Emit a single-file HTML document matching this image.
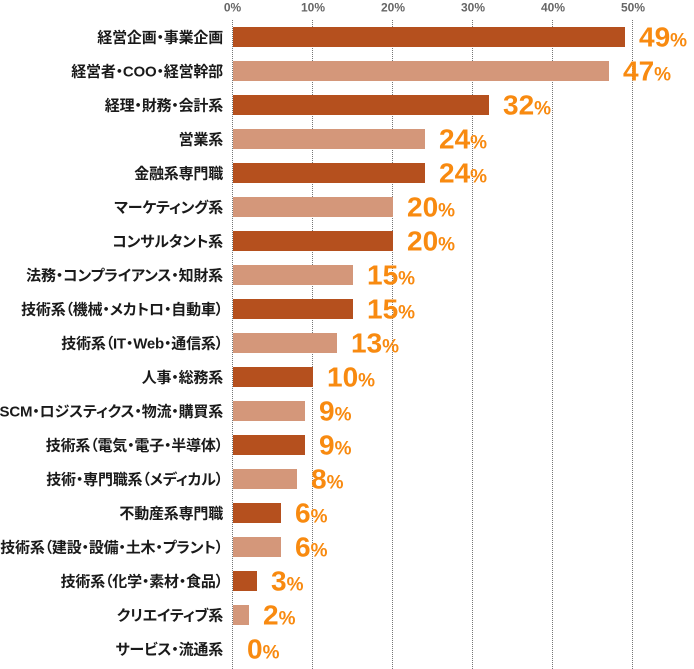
<!DOCTYPE html>
<html>
<head>
<meta charset="utf-8">
<style>
html,body{margin:0;padding:0;background:#fff;}
svg{display:block;}
.cat{font-family:"Liberation Sans","Noto Sans CJK JP",sans-serif;font-weight:700;font-size:15px;fill:#1a1a1a;font-feature-settings:"palt";letter-spacing:-0.2px;}
.tick{font-family:"Liberation Sans",sans-serif;font-weight:700;font-size:12px;fill:#666;}
.val{font-family:"Liberation Sans",sans-serif;font-weight:700;font-size:28px;fill:#f88a10;}
.pct{font-size:19px;}
</style>
</head>
<body>
<svg width="694" height="669" viewBox="0 0 694 669" xmlns="http://www.w3.org/2000/svg">
  <!-- tick labels -->
  <text class="tick" x="232.5" y="11.3" text-anchor="middle">0%</text>
  <text class="tick" x="313" y="11.3" text-anchor="middle">10%</text>
  <text class="tick" x="393" y="11.3" text-anchor="middle">20%</text>
  <text class="tick" x="473" y="11.3" text-anchor="middle">30%</text>
  <text class="tick" x="553" y="11.3" text-anchor="middle">40%</text>
  <text class="tick" x="633" y="11.3" text-anchor="middle">50%</text>
  <!-- gridlines -->
  <g stroke="#777" stroke-width="1" stroke-dasharray="1,1">
    <line x1="232.5" y1="20" x2="232.5" y2="669"/>
    <line x1="312.5" y1="20" x2="312.5" y2="669"/>
    <line x1="392.5" y1="20" x2="392.5" y2="669"/>
    <line x1="472.5" y1="20" x2="472.5" y2="669"/>
    <line x1="552.5" y1="20" x2="552.5" y2="669"/>
    <line x1="632.5" y1="20" x2="632.5" y2="669"/>
  </g>
  <!-- bars -->
  <g>
    <rect x="233" y="27" width="392" height="20" fill="#b5501e"/>
    <rect x="233" y="61" width="376" height="20" fill="#d4977a"/>
    <rect x="233" y="95" width="256" height="20" fill="#b5501e"/>
    <rect x="233" y="129" width="192" height="20" fill="#d4977a"/>
    <rect x="233" y="163" width="192" height="20" fill="#b5501e"/>
    <rect x="233" y="197" width="160" height="20" fill="#d4977a"/>
    <rect x="233" y="231" width="160" height="20" fill="#b5501e"/>
    <rect x="233" y="265" width="120" height="20" fill="#d4977a"/>
    <rect x="233" y="299" width="120" height="20" fill="#b5501e"/>
    <rect x="233" y="333" width="104" height="20" fill="#d4977a"/>
    <rect x="233" y="367" width="80" height="20" fill="#b5501e"/>
    <rect x="233" y="401" width="72" height="20" fill="#d4977a"/>
    <rect x="233" y="435" width="72" height="20" fill="#b5501e"/>
    <rect x="233" y="469" width="64" height="20" fill="#d4977a"/>
    <rect x="233" y="503" width="48" height="20" fill="#b5501e"/>
    <rect x="233" y="537" width="48" height="20" fill="#d4977a"/>
    <rect x="233" y="571" width="24" height="20" fill="#b5501e"/>
    <rect x="233" y="605" width="16" height="20" fill="#d4977a"/>
  </g>
  <!-- category labels -->
  <g text-anchor="end">
    <text class="cat" x="223" y="42.5">経営企画・事業企画</text>
    <text class="cat" x="223" y="76.5">経営者・COO・経営幹部</text>
    <text class="cat" x="223" y="110.5">経理・財務・会計系</text>
    <text class="cat" x="223" y="144.5">営業系</text>
    <text class="cat" x="223" y="178.5">金融系専門職</text>
    <text class="cat" x="223" y="212.5">マーケティング系</text>
    <text class="cat" x="223" y="246.5">コンサルタント系</text>
    <text class="cat" x="223" y="280.5">法務・コンプライアンス・知財系</text>
    <text class="cat" x="223" y="314.5">技術系（機械・メカトロ・自動車）</text>
    <text class="cat" x="223" y="348.5">技術系（IT・Web・通信系）</text>
    <text class="cat" x="223" y="382.5">人事・総務系</text>
    <text class="cat" x="223" y="416.5">SCM・ロジスティクス・物流・購買系</text>
    <text class="cat" x="223" y="450.5">技術系（電気・電子・半導体）</text>
    <text class="cat" x="223" y="484.5">技術・専門職系（メディカル）</text>
    <text class="cat" x="223" y="518.5">不動産系専門職</text>
    <text class="cat" x="223" y="552.5">技術系（建設・設備・土木・プラント）</text>
    <text class="cat" x="223" y="586.5">技術系（化学・素材・食品）</text>
    <text class="cat" x="223" y="620.5">クリエイティブ系</text>
    <text class="cat" x="223" y="654.5">サービス・流通系</text>
  </g>
  <!-- value labels -->
  <g>
    <text class="val" x="639" y="46.7">49<tspan class="pct">%</tspan></text>
    <text class="val" x="623" y="80.7">47<tspan class="pct">%</tspan></text>
    <text class="val" x="503" y="114.7">32<tspan class="pct">%</tspan></text>
    <text class="val" x="439" y="148.7">24<tspan class="pct">%</tspan></text>
    <text class="val" x="439" y="182.7">24<tspan class="pct">%</tspan></text>
    <text class="val" x="407" y="216.7">20<tspan class="pct">%</tspan></text>
    <text class="val" x="407" y="250.7">20<tspan class="pct">%</tspan></text>
    <text class="val" x="367" y="284.7">15<tspan class="pct">%</tspan></text>
    <text class="val" x="367" y="318.7">15<tspan class="pct">%</tspan></text>
    <text class="val" x="351" y="352.7">13<tspan class="pct">%</tspan></text>
    <text class="val" x="327" y="386.7">10<tspan class="pct">%</tspan></text>
    <text class="val" x="319" y="420.7">9<tspan class="pct">%</tspan></text>
    <text class="val" x="319" y="454.7">9<tspan class="pct">%</tspan></text>
    <text class="val" x="311" y="488.7">8<tspan class="pct">%</tspan></text>
    <text class="val" x="295" y="522.7">6<tspan class="pct">%</tspan></text>
    <text class="val" x="295" y="556.7">6<tspan class="pct">%</tspan></text>
    <text class="val" x="271" y="590.7">3<tspan class="pct">%</tspan></text>
    <text class="val" x="263" y="624.7">2<tspan class="pct">%</tspan></text>
    <text class="val" x="247" y="658.5">0<tspan class="pct">%</tspan></text>
  </g>
</svg>
</body>
</html>
